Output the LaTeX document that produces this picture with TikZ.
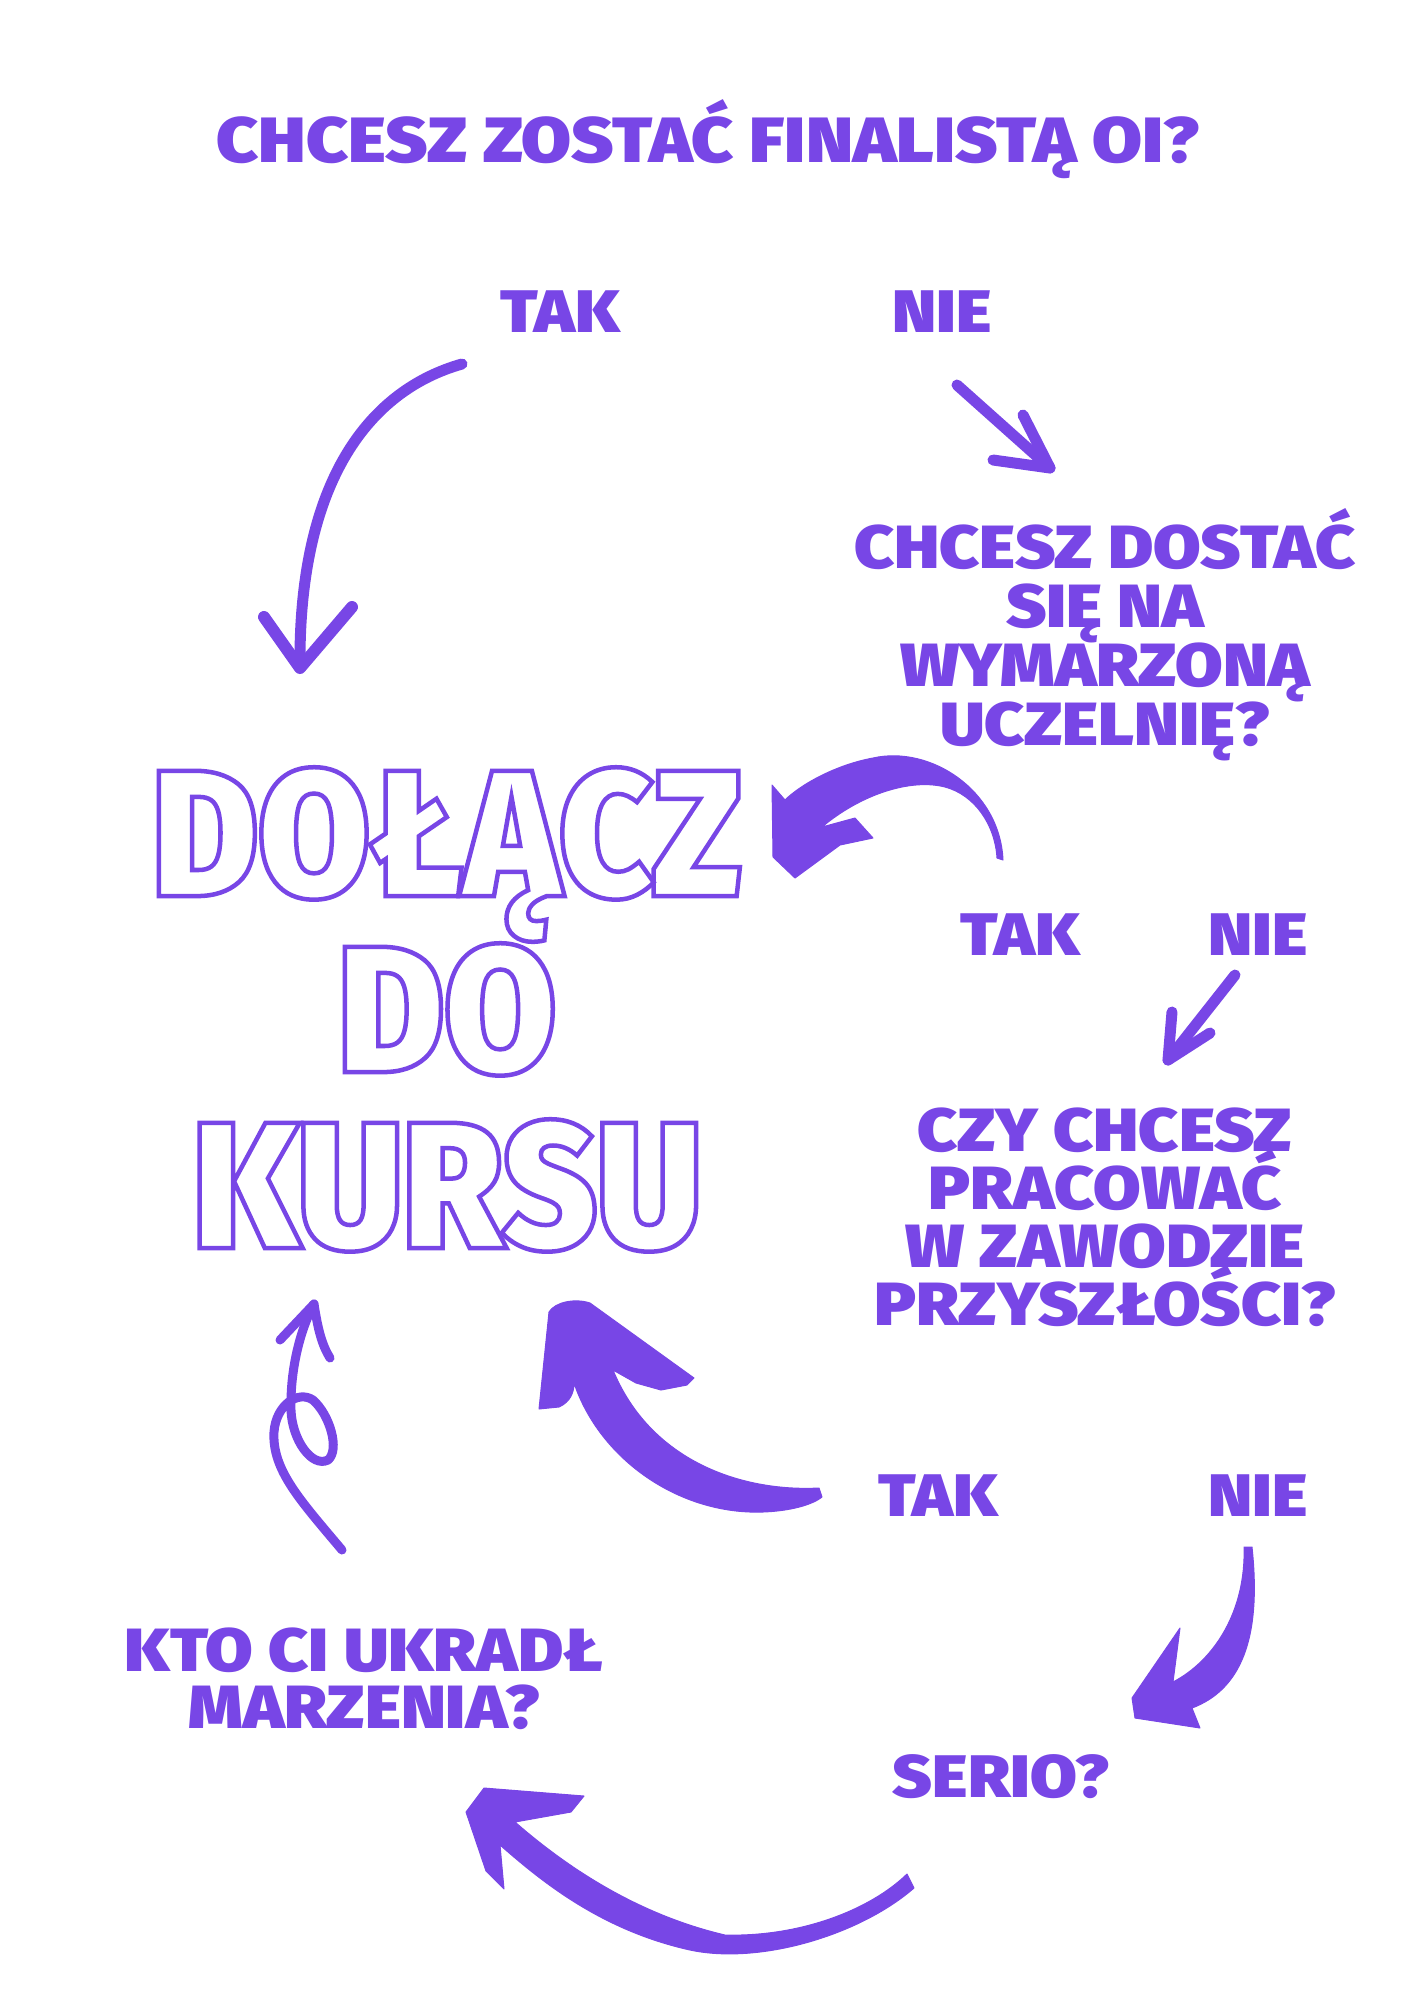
\documentclass[tikz,border=0pt]{standalone}
\usepackage{fontspec}
\newfontfamily\blokfont{Fira Sans Black}[FakeStretch=1.13]
\newfontfamily\konturfont{Fira Sans Black}[FakeStretch=0.9]
\definecolor{fiolet}{RGB}{120,70,230}
\lineskiplimit=-100pt
% tekst tylko z obrysem (tryb renderowania 1)
\newcommand{\obrys}[1]{\special{pdf:literal direct 1 Tr 4.5 w}#1\special{pdf:literal direct 0 Tr}}

\begin{document}
\begin{tikzpicture}[x=1pt,y=-1pt,
		pytanie/.style={text=fiolet,inner sep=0pt,align=center,anchor=north,font=\blokfont\fontsize{61}{60}\selectfont},
		odp/.style={text=fiolet,inner sep=0pt,anchor=base,font=\blokfont\fontsize{60}{60}\selectfont},
		pedzel/.style={draw=fiolet,line width=11pt,line cap=round,line join=round},
		plama/.style={fill=fiolet,draw=fiolet,line width=1pt,line join=round}]
	\useasboundingbox (0,0) rectangle (1416,2000);

	% pytanie glowne
	\node [odp,font=\blokfont\fontsize{64}{64}\selectfont] (finalista) at (708,162) {CHCESZ ZOSTAĆ FINALISTĄ OI?};
	\node [odp] (tak1) at (560,332) {TAK};
	\node [odp] (nie1) at (942,332) {NIE};

	% strzalka TAK -> kurs
	\coordinate (s1) at (462,364);
	\coordinate (t1) at (300,668);
	\draw [pedzel] (s1) .. controls (370,390) and (298,480) .. (t1);
	\draw [pedzel,line width=12pt] (264,617) -- (t1) -- (352,607);

	% strzalka NIE -> uczelnia
	\coordinate (s2) at (957,385);
	\coordinate (t2) at (1050,468);
	\draw [pedzel] (s2) -- (t2);
	\draw [pedzel] (1023,415) -- (t2) -- (993,460);

	% uczelnia
	\node [pytanie,font=\blokfont\fontsize{61}{59}\selectfont] (uczelnia) at (1105,508) {CHCESZ DOSTAĆ\\SIĘ NA\\WYMARZONĄ\\UCZELNIĘ?};
	\fill [plama] (1003,860) .. controls (1000,790) and (930,745) .. (873,758)
		.. controls (835,765) and (800,785) .. (785,800)
		-- (772,785) -- (773,857) -- (795,878) -- (840,845) -- (873,838) -- (855,818)
		-- (822,827) .. controls (860,795) and (910,778) .. (945,787)
		.. controls (975,795) and (995,825) .. (997,858) -- cycle;
	\node [odp] (tak2) at (1020,955) {TAK};
	\node [odp] (nie2) at (1258,955) {NIE};

	% strzalka NIE -> zawod
	\coordinate (s4) at (1235,975);
	\coordinate (t4) at (1168,1060);
	\draw [pedzel] (s4) -- (t4);
	\draw [pedzel] (1172,1012) -- (t4) -- (1210,1033);

	% zawod
	\node [pytanie,font=\blokfont\fontsize{61}{58}\selectfont] (zawod) at (1105,1108) {CZY CHCESZ\\PRACOWAĆ\\W ZAWODZIE\\PRZYSZŁOŚCI?};
	\node [odp] (tak3) at (938,1516) {TAK};
	\node [odp] (nie3) at (1258,1516) {NIE};
	\fill [plama] (819,1488) .. controls (740,1492) and (650,1460) .. (613,1370)
		-- (636,1383) -- (661,1390) -- (687,1385) -- (694,1378)
		-- (590,1303) .. controls (575,1298) and (555,1302) .. (549,1312)
		-- (539,1409) -- (559,1407) .. controls (570,1402) and (574,1393) .. (574,1383)
		.. controls (600,1460) and (680,1515) .. (763,1512)
		.. controls (790,1511) and (812,1505) .. (822,1497) -- cycle;
	\fill [plama] (1244,1547) .. controls (1246,1610) and (1215,1660) .. (1173,1682)
		-- (1180,1628) -- (1132,1698) -- (1135,1718) -- (1200,1728) -- (1192,1708)
		.. controls (1240,1690) and (1262,1640) .. (1252,1547) -- cycle;

	% serio
	\node [odp] (serio) at (1001,1797) {SERIO?};
	\fill [plama] (907,1874) -- (914,1888) .. controls (860,1935) and (760,1965) .. (690,1950)
		.. controls (600,1930) and (540,1880) .. (500,1845)
		-- (504,1889) -- (486,1871) -- (466,1812) -- (484,1788) -- (584,1796) -- (571,1812)
		-- (515,1822) .. controls (570,1870) and (640,1915) .. (725,1935)
		.. controls (800,1937) and (870,1910) .. (907,1874) -- cycle;

	% marzenia
	\node [pytanie,font=\blokfont\fontsize{61}{57}\selectfont] (marzenia) at (364,1628) {KTO CI UKRADŁ\\MARZENIA?};
	\coordinate (s8) at (342,1550);
	\coordinate (t8) at (314,1304);
	\draw [pedzel,line width=9pt] (s8) .. controls (300,1500) and (272,1470) .. (274,1432)
		.. controls (276,1405) and (298,1390) .. (313,1400)
		.. controls (330,1415) and (340,1450) .. (328,1460)
		.. controls (312,1468) and (292,1440) .. (291,1410)
		.. controls (290,1370) and (300,1330) .. (t8);
	\draw [pedzel,line width=9pt] (280,1340) -- (t8) .. controls (318,1330) and (322,1345) .. (330,1358);

	% dolacz do kursu
	\node [text=fiolet,inner sep=0pt,align=center,anchor=north,font=\konturfont\fontsize{180}{176}\selectfont] (dolacz) at (447,767) {\obrys{DOŁĄCZ\\DO\\KURSU}};
\end{tikzpicture}
\end{document}
